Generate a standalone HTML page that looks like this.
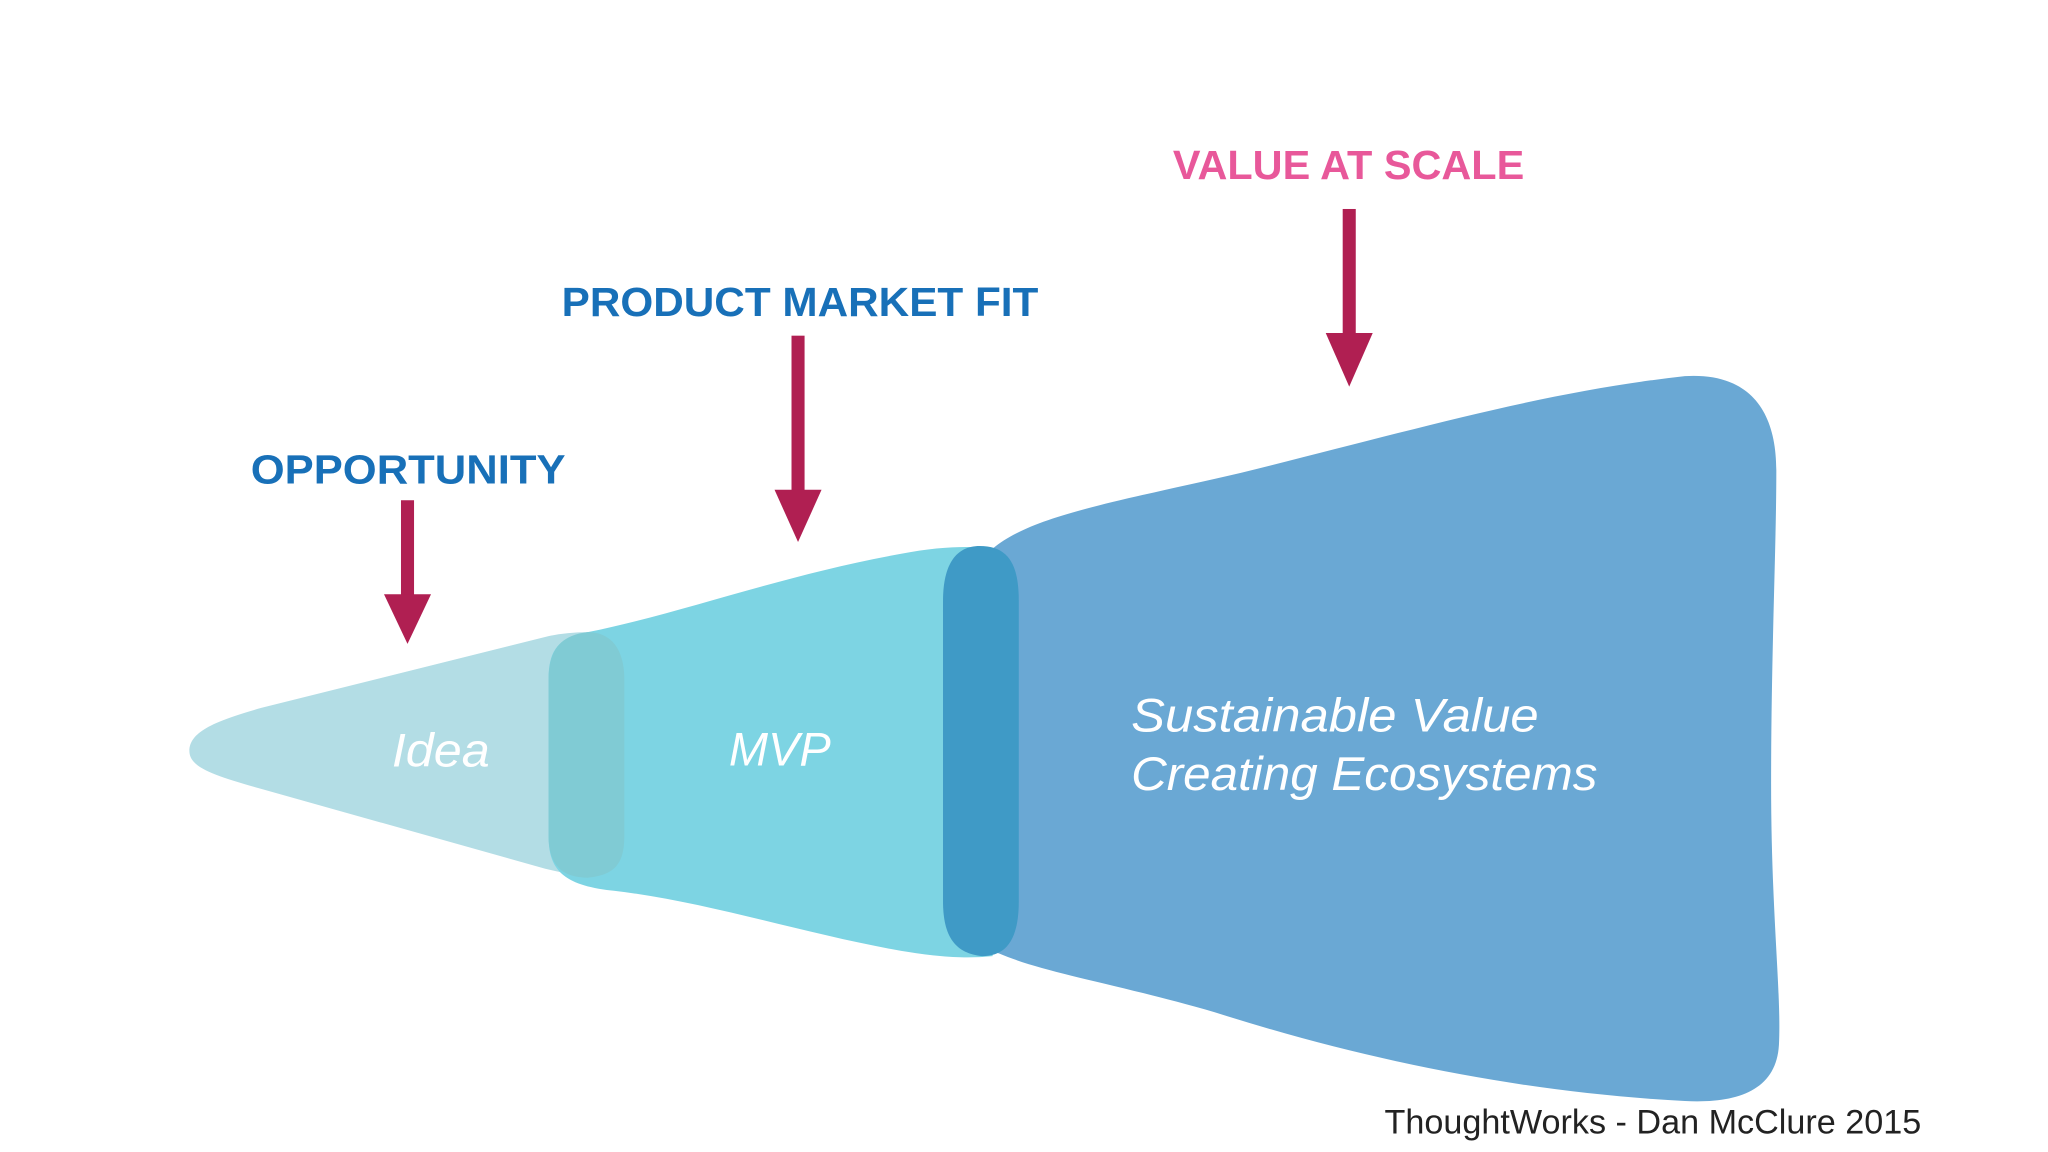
<!DOCTYPE html>
<html><head><meta charset="utf-8"><style>
html,body{margin:0;padding:0;background:#fff;}
svg{display:block;}
</style></head><body>
<svg width="2048" height="1152" viewBox="0 0 1568 882" preserveAspectRatio="none" xmlns="http://www.w3.org/2000/svg">
<rect width="1568" height="882" fill="#fff"/>
<path d="M145,575 C145,560 165,552 200,542 L420,487 C430,485 440,484 450,484 L460,484 L460,670 L440,670 C430,668 420,666 410,663 L200,604 C165,594 145,588 145,575 Z" fill="#b3dde5"/>
<path d="M450,484 C520,470 600,440 690,424 C720,418 745,418 760,420 L760,732 C740,734 720,733 690,728 C620,716 540,690 470,682 C430,678 420,665 420,640 L420,520 C420,495 430,488 450,484 Z" fill="#7dd4e3"/>
<path d="M450,484 C470,484 478,500 478,520 L478,640 C478,662 470,670 450,672 C430,672 420,662 420,640 L420,520 C420,495 432,486 450,484 Z" fill="#80cbd4"/>
<path d="M760,420 C790,395 850,385 950,362 C1080,330 1180,300 1290,288 C1340,285 1360,315 1360,360 C1360,420 1356,500 1356,600 C1356,700 1364,760 1362,800 C1360,835 1330,845 1290,843 C1160,836 1040,810 930,775 C850,752 800,745 765,730 C735,720 722,700 722,670 L722,470 C722,440 738,428 760,420 Z" fill="#6aa8d4"/>
<path d="M750,418 C772,418 780,432 780,460 L780,690 C780,720 770,732 752,732 C732,730 722,718 722,690 L722,460 C722,432 732,418 750,418 Z" fill="#3f9ac6"/>
<g fill="#b01f52">
<rect x="307" y="383" width="10" height="78"/><polygon points="294,455 330,455 312,493"/>
<rect x="606" y="257" width="10" height="124"/><polygon points="593,375 629,375 611,415"/>
<rect x="1028" y="160" width="10" height="100"/><polygon points="1015,255 1051,255 1033,296"/>
</g>
<g font-family="Liberation Sans, sans-serif" font-weight="bold" font-size="31">
<text x="192" y="370" fill="#1870b8" textLength="241" lengthAdjust="spacingAndGlyphs">OPPORTUNITY</text>
<text x="430" y="242" fill="#1870b8" textLength="365" lengthAdjust="spacingAndGlyphs">PRODUCT MARKET FIT</text>
<text x="898" y="137" fill="#e8589a" textLength="269" lengthAdjust="spacingAndGlyphs">VALUE AT SCALE</text>
</g>
<g font-family="Liberation Sans, sans-serif" font-style="italic" fill="#fff" font-size="36">
<text x="300" y="587" textLength="75" lengthAdjust="spacingAndGlyphs">Idea</text>
<text x="558" y="586" textLength="78" lengthAdjust="spacingAndGlyphs">MVP</text>
<text x="866" y="560" textLength="312" lengthAdjust="spacingAndGlyphs">Sustainable Value</text>
<text x="866" y="605" textLength="357" lengthAdjust="spacingAndGlyphs">Creating Ecosystems</text>
</g>
<text x="1060" y="868" font-family="Liberation Sans, sans-serif" font-size="26" fill="#222" textLength="411" lengthAdjust="spacingAndGlyphs">ThoughtWorks - Dan McClure 2015</text>
</svg>
</body></html>
